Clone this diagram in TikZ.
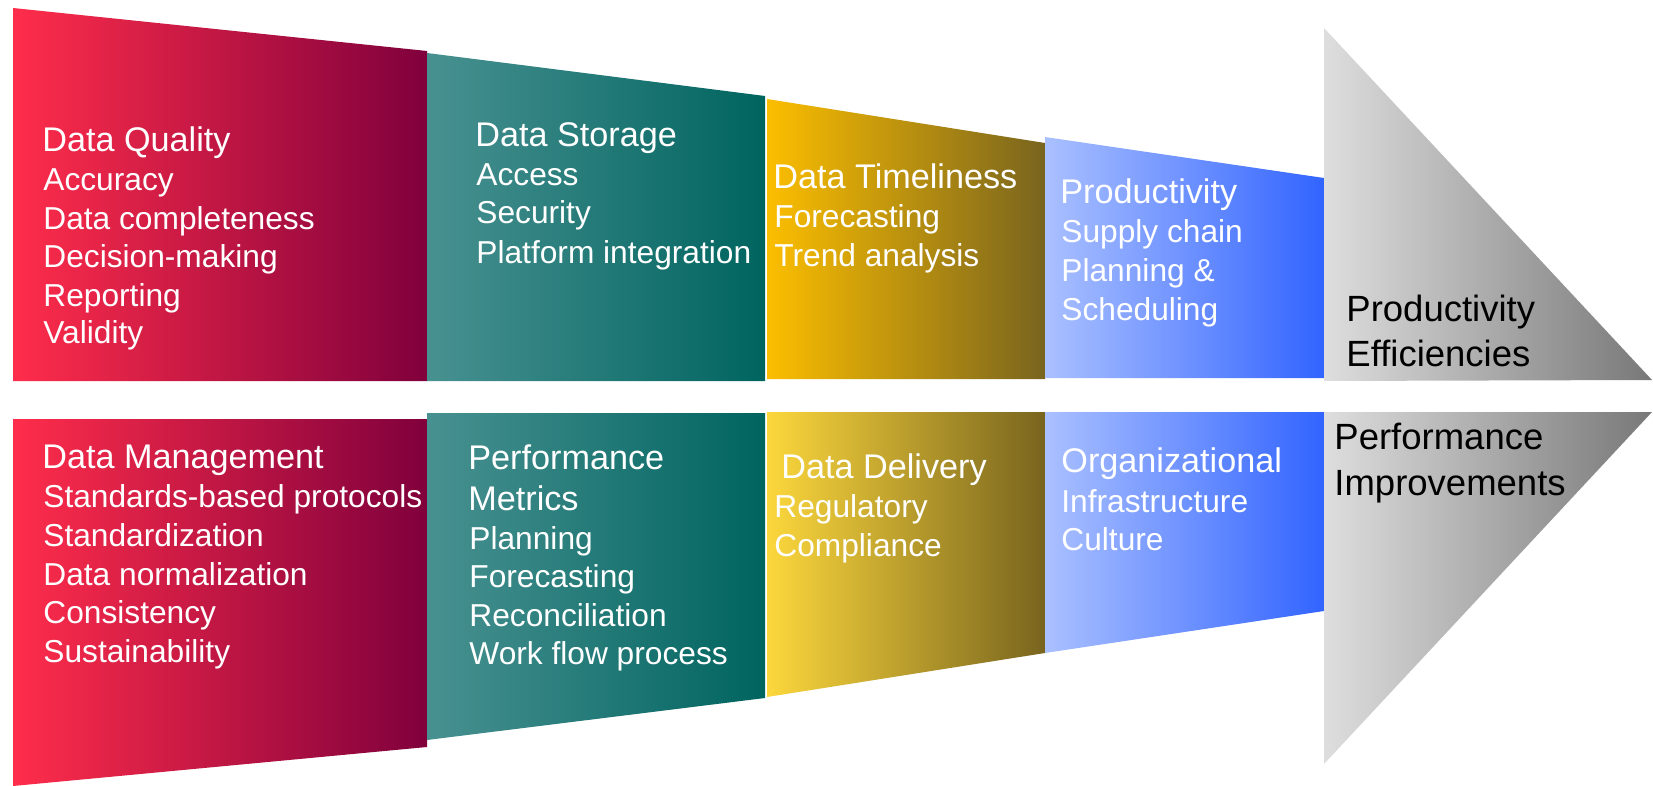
\documentclass[tikz,border=0pt]{standalone}
\usepackage{fontspec}
\setmainfont{Liberation Sans}
\definecolor{redL}{RGB}{255,45,75}
\definecolor{redR}{RGB}{128,0,60}
\definecolor{tealL}{RGB}{72,145,145}
\definecolor{tealR}{RGB}{0,100,95}
\definecolor{yelL}{RGB}{252,190,0}
\definecolor{yelBL}{RGB}{252,215,60}
\definecolor{yelR}{RGB}{120,100,30}
\definecolor{bluL}{RGB}{170,192,255}
\definecolor{bluR}{RGB}{50,100,255}
\definecolor{gryL}{RGB}{222,222,222}
\definecolor{gryR}{RGB}{120,120,120}
\begin{document}
\begin{tikzpicture}[x=0.5pt,y=-0.5pt,
  ttl/.style={text=white, font=\fontsize{17.1}{20}\selectfont, inner sep=0pt, anchor=base west},
  itm/.style={text=white, font=\fontsize{15.85}{19}\selectfont, inner sep=0pt, anchor=base west},
  gtx/.style={text=black, font=\fontsize{18.25}{22}\selectfont, inner sep=0pt, anchor=base west},
  redband/.style={left color=redL, right color=redR},
  tealband/.style={left color=tealL, right color=tealR},
  yelband/.style={left color=yelL, right color=yelR},
  yelbband/.style={left color=yelBL, right color=yelR},
  bluband/.style={left color=bluL, right color=bluR},
  gryband/.style={left color=gryL, right color=gryR}]
\useasboundingbox (0,0) rectangle (1653,786);
% top row
\shade[redband] (13,8) -- (427,51) -- (427,381) -- (13,381) -- cycle;
\shade[tealband] (427,53) -- (765,96) -- (765,381) -- (427,381) -- cycle;
\shade[yelband] (767,99) -- (1045,143) -- (1045,379) -- (767,379) -- cycle;
\shade[bluband] (1045,137) -- (1324,178) -- (1324,378) -- (1045,378) -- cycle;
\shade[gryband] (1324,28) -- (1652,380) -- (1324,381) -- cycle;
% bottom row
\shade[redband] (13,419) -- (427,419) -- (427,747) -- (13,786) -- cycle;
\shade[tealband] (427,413) -- (765,413) -- (765,698) -- (427,740) -- cycle;
\shade[yelbband] (767,412) -- (1045,412) -- (1045,653) -- (767,697) -- cycle;
\shade[bluband] (1045,412) -- (1324,412) -- (1324,611) -- (1045,653) -- cycle;
\shade[gryband] (1324,412) -- (1652,412) -- (1324,764) -- cycle;
% top texts
\node[ttl] (q0) at (42,151.7) {Data Quality};
\node[itm] (q1) at (43,190.7) {Accuracy};
\node[itm] (q2) at (43,229.3) {Data completeness};
\node[itm] (q3) at (43,267.7) {Decision-making};
\node[itm] (q4) at (43,306) {Reporting};
\node[itm] (q5) at (43,343.3) {Validity};
\node[ttl] (s0) at (475,146.7) {Data Storage};
\node[itm] (s1) at (476,185.7) {Access};
\node[itm] (s2) at (476,224) {Security};
\node[itm] (s3) at (476,263.3) {Platform integration};
\node[ttl] (t0) at (773,188.3) {Data Timeliness};
\node[itm] (t1) at (774,227.7) {Forecasting};
\node[itm] (t2) at (774,266.7) {Trend analysis};
\node[ttl] (p0) at (1060,204) {Productivity};
\node[itm] (p1) at (1061,242.7) {Supply chain};
\node[itm] (p2) at (1061,281.7) {Planning \&};
\node[itm] (p3) at (1061,320) {Scheduling};
\node[gtx] (e0) at (1346,321.7) {Productivity};
\node[gtx] (e1) at (1346,366.7) {Efficiencies};
% bottom texts
\node[ttl] (m0) at (42,468.7) {Data Management};
\node[itm] (m1) at (43,507.7) {Standards-based protocols};
\node[itm] (m2) at (43,546.7) {Standardization};
\node[itm] (m3) at (43,585.3) {Data normalization};
\node[itm] (m4) at (43,623.3) {Consistency};
\node[itm] (m5) at (43,662) {Sustainability};
\node[ttl] (f0) at (468,469.3) {Performance};
\node[ttl] (f1) at (468,510) {Metrics};
\node[itm] (f2) at (469,549.3) {Planning};
\node[itm] (f3) at (469,587.7) {Forecasting};
\node[itm] (f4) at (469,626) {Reconciliation};
\node[itm] (f5) at (469,664.3) {Work flow process};
\node[ttl] (d0) at (781,478.7) {Data Delivery};
\node[itm] (d1) at (774,517.7) {Regulatory};
\node[itm] (d2) at (774,556) {Compliance};
\node[ttl] (o0) at (1061,472) {Organizational};
\node[itm] (o1) at (1061,512) {Infrastructure};
\node[itm] (o2) at (1061,550) {Culture};
\node[gtx] (i0) at (1334,449.3) {Performance};
\node[gtx] (i1) at (1334,495.3) {Improvements};
\end{tikzpicture}
\end{document}
